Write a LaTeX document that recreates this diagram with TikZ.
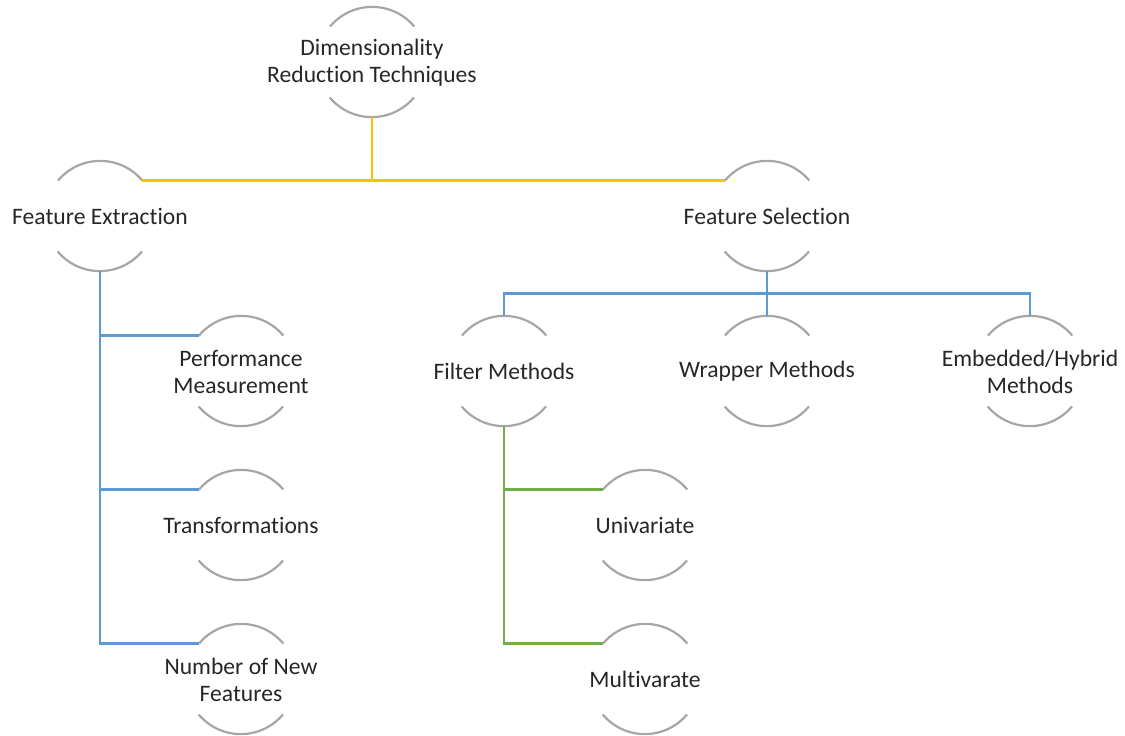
\documentclass[tikz,border=0pt]{standalone}
\usepackage{fontspec}
\setmainfont{Carlito}[Ligatures=NoCommon]
\usetikzlibrary{calc}
\definecolor{arcgray}{HTML}{A6A6A6}
\definecolor{yel}{HTML}{FFC000}
\definecolor{blu}{HTML}{5B9BD5}
\definecolor{grn}{HTML}{70AD47}
\definecolor{txt}{HTML}{262626}
\tikzset{
  ring/.style={circle, minimum size=110pt, inner sep=0pt, draw=none},
  lbl/.style={align=center, text=txt, font=\fontsize{23.6}{27}\selectfont, inner sep=0pt},
  arcline/.style={draw=arcgray, line width=2.2pt},
  yline/.style={draw=yel, line width=2.2pt},
  bline/.style={draw=blu, line width=2.2pt},
  gline/.style={draw=grn, line width=2.2pt},
}
\newcommand{\ringnode}[3]{%
  \node[ring] (#1) at (#2) {};
  \node[lbl] (#1-t) at ($(#1.center)+(0,-0.5)$) {#3};
  \draw[arcline] (#1.40) arc[start angle=40, end angle=140, radius=55pt];
  \draw[arcline] (#1.220) arc[start angle=220, end angle=320, radius=55pt];
}
\begin{document}
\begin{tikzpicture}[x=1pt,y=1pt]
\useasboundingbox (0,0) rectangle (1125,-736);
\ringnode{root}{372,-62}{Dimensionality\\Reduction Techniques}
\ringnode{fe}{100,-216}{Feature Extraction}
\ringnode{fs}{767,-216}{Feature Selection}
\ringnode{pm}{241,-371}{Performance\\Measurement}
\ringnode{tr}{241,-525}{Transformations}
\ringnode{nf}{241,-679}{Number of New\\Features}
\ringnode{fm}{504,-371}{Filter Methods}
\ringnode{wm}{767,-371}{Wrapper Methods}
\ringnode{em}{1030,-371}{Embedded/Hybrid\\Methods}
\ringnode{uv}{645,-525}{Univariate}
\ringnode{mv}{645,-679}{Multivarate}
% yellow
\draw[yline] (fe.40) -- (fs.140);
\draw[yline] (root.south) -- (root.south |- fe.40);
% blue from feature extraction
\draw[bline] (fe.south) |- (pm.140);
\draw[bline] (fe.south) |- (tr.140);
\draw[bline] (fe.south) |- (nf.140);
% blue from feature selection
\coordinate (fsbus) at ($(fs.south)!0.5!(wm.north)$);
\draw[bline] (fs.south) -- (wm.north);
\draw[bline] (fm.north) |- (fsbus) -| (em.north);
% green
\draw[gline] (fm.south) |- (uv.140);
\draw[gline] (fm.south) |- (mv.140);
\end{tikzpicture}
\end{document}
